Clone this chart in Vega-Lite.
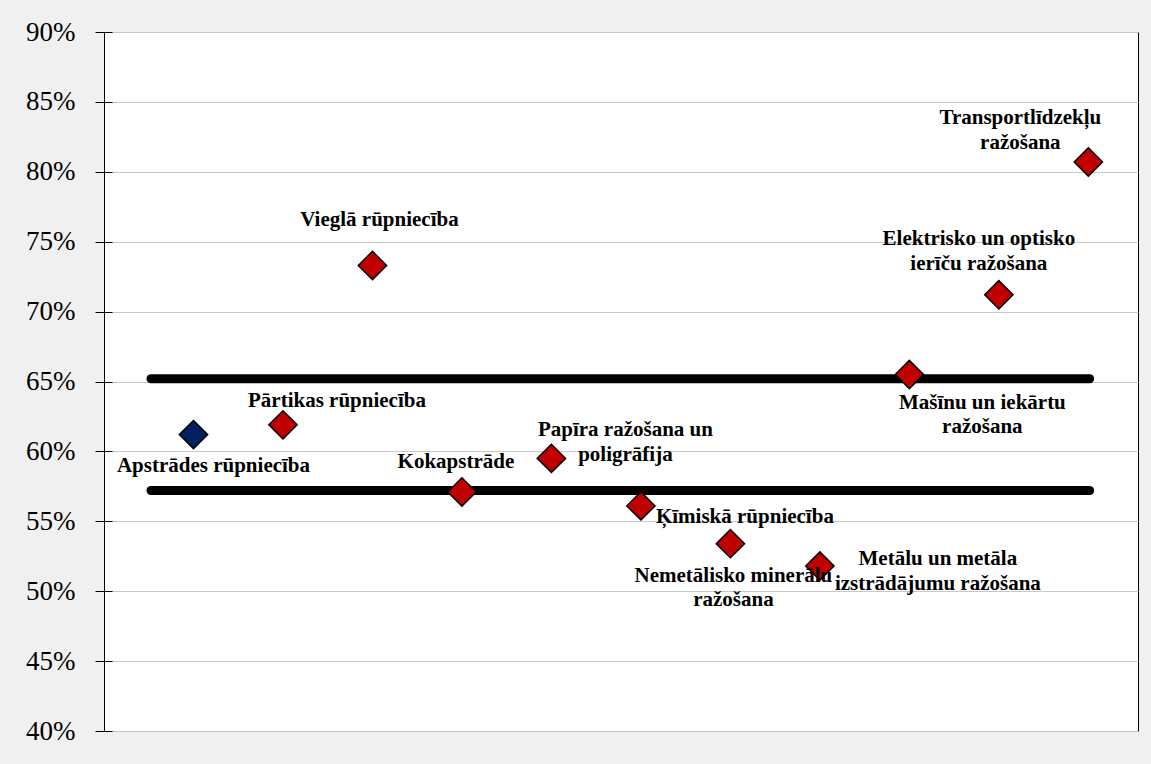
{
  "$schema": "https://vega.github.io/schema/vega-lite/v6.json",
  "autosize": {"type": "none"},
  "width": 1034,
  "height": 699,
  "padding": {"left": 104, "top": 32, "right": 13, "bottom": 33},
  "background": "#f0f0f0",
  "config": {
    "view": {"fill": "white", "stroke": "black", "strokeWidth": 1},
    "font": "Liberation Serif"
  },
  "datasets": {
    "points": [
      {"name": "Apstrādes rūpniecība", "idx": 1, "value": 0.612, "group": "Kopā"},
      {"name": "Pārtikas rūpniecība", "idx": 2, "value": 0.619, "group": "Nozare"},
      {"name": "Vieglā rūpniecība", "idx": 3, "value": 0.733, "group": "Nozare"},
      {"name": "Kokapstrāde", "idx": 4, "value": 0.571, "group": "Nozare"},
      {"name": "Papīra ražošana un\npoligrāfija", "idx": 5, "value": 0.595, "group": "Nozare"},
      {"name": "Ķīmiskā rūpniecība", "idx": 6, "value": 0.561, "group": "Nozare"},
      {"name": "Nemetālisko minerālu\nražošana", "idx": 7, "value": 0.534, "group": "Nozare"},
      {"name": "Metālu un metāla\nizstrādājumu ražošana", "idx": 8, "value": 0.518, "group": "Nozare"},
      {"name": "Mašīnu un iekārtu\nražošana", "idx": 9, "value": 0.655, "group": "Nozare"},
      {"name": "Elektrisko un optisko\nierīču ražošana", "idx": 10, "value": 0.712, "group": "Nozare"},
      {"name": "Transportlīdzekļu\nražošana", "idx": 11, "value": 0.807, "group": "Nozare"}
    ],
    "bands": [
      {"band": "augšējā", "start": 0.525, "end": 11.015, "level": 0.652},
      {"band": "apakšējā", "start": 0.525, "end": 11.015, "level": 0.572}
    ]
  },
  "layer": [
    {
      "data": {"name": "bands"},
      "mark": {"type": "rule", "strokeWidth": 9, "strokeCap": "round", "color": "black"},
      "encoding": {
        "x": {"field": "start", "type": "quantitative", "scale": {"domain": [0, 11.555], "nice": false, "zero": false}, "axis": null},
        "x2": {"field": "end"},
        "y": {"field": "level", "type": "quantitative", "scale": {"domain": [0.4, 0.9], "nice": false, "zero": false},
          "axis": {"values": [0.4, 0.45, 0.5, 0.55, 0.6, 0.65, 0.7, 0.75, 0.8, 0.85, 0.9], "format": ".0%", "title": null,
            "grid": true, "gridColor": "#c8c8c8", "gridWidth": 1, "domain": false,
            "offset": -8, "tickSize": 17, "tickColor": "black", "tickWidth": 1,
            "labelFont": "Liberation Serif", "labelFontSize": 27, "labelColor": "black", "labelPadding": 20}}
      }
    },
    {
      "data": {"name": "points"},
      "mark": {"type": "point", "shape": "diamond", "filled": true, "size": 800, "stroke": "black", "strokeWidth": 1.5, "opacity": 1},
      "encoding": {
        "x": {"field": "idx", "type": "quantitative"},
        "y": {"field": "value", "type": "quantitative"},
        "fill": {"field": "group", "type": "nominal", "scale": {"domain": ["Kopā", "Nozare"], "range": ["#002060", "#c00000"]}, "legend": null}
      }
    },
    {"data": {"name": "points"}, "transform": [{"filter": "datum.idx === 1"}],
     "mark": {"type": "text", "font": "Liberation Serif", "fontWeight": "bold", "fontSize": 21, "lineHeight": 24.7, "lineBreak": "\n", "align": "center", "baseline": "middle", "color": "black", "dx": 20, "dy": 31},
     "encoding": {"x": {"field": "idx", "type": "quantitative"}, "y": {"field": "value", "type": "quantitative"}, "text": {"field": "name"}}},
    {"data": {"name": "points"}, "transform": [{"filter": "datum.idx === 2"}],
     "mark": {"type": "text", "font": "Liberation Serif", "fontWeight": "bold", "fontSize": 21, "lineHeight": 24.7, "lineBreak": "\n", "align": "center", "baseline": "middle", "color": "black", "dx": 54, "dy": -24},
     "encoding": {"x": {"field": "idx", "type": "quantitative"}, "y": {"field": "value", "type": "quantitative"}, "text": {"field": "name"}}},
    {"data": {"name": "points"}, "transform": [{"filter": "datum.idx === 3"}],
     "mark": {"type": "text", "font": "Liberation Serif", "fontWeight": "bold", "fontSize": 21, "lineHeight": 24.7, "lineBreak": "\n", "align": "center", "baseline": "middle", "color": "black", "dx": 7, "dy": -45},
     "encoding": {"x": {"field": "idx", "type": "quantitative"}, "y": {"field": "value", "type": "quantitative"}, "text": {"field": "name"}}},
    {"data": {"name": "points"}, "transform": [{"filter": "datum.idx === 4"}],
     "mark": {"type": "text", "font": "Liberation Serif", "fontWeight": "bold", "fontSize": 21, "lineHeight": 24.7, "lineBreak": "\n", "align": "center", "baseline": "middle", "color": "black", "dx": -6, "dy": -30},
     "encoding": {"x": {"field": "idx", "type": "quantitative"}, "y": {"field": "value", "type": "quantitative"}, "text": {"field": "name"}}},
    {"data": {"name": "points"}, "transform": [{"filter": "datum.idx === 5"}],
     "mark": {"type": "text", "font": "Liberation Serif", "fontWeight": "bold", "fontSize": 21, "lineHeight": 24.7, "lineBreak": "\n", "align": "center", "baseline": "middle", "color": "black", "dx": 74, "dy": -28},
     "encoding": {"x": {"field": "idx", "type": "quantitative"}, "y": {"field": "value", "type": "quantitative"}, "text": {"field": "name"}}},
    {"data": {"name": "points"}, "transform": [{"filter": "datum.idx === 6"}],
     "mark": {"type": "text", "font": "Liberation Serif", "fontWeight": "bold", "fontSize": 21, "lineHeight": 24.7, "lineBreak": "\n", "align": "center", "baseline": "middle", "color": "black", "dx": 104, "dy": 11},
     "encoding": {"x": {"field": "idx", "type": "quantitative"}, "y": {"field": "value", "type": "quantitative"}, "text": {"field": "name"}}},
    {"data": {"name": "points"}, "transform": [{"filter": "datum.idx === 7"}],
     "mark": {"type": "text", "font": "Liberation Serif", "fontWeight": "bold", "fontSize": 21, "lineHeight": 24.7, "lineBreak": "\n", "align": "center", "baseline": "middle", "color": "black", "dx": 3, "dy": 32},
     "encoding": {"x": {"field": "idx", "type": "quantitative"}, "y": {"field": "value", "type": "quantitative"}, "text": {"field": "name"}}},
    {"data": {"name": "points"}, "transform": [{"filter": "datum.idx === 8"}],
     "mark": {"type": "text", "font": "Liberation Serif", "fontWeight": "bold", "fontSize": 21, "lineHeight": 24.7, "lineBreak": "\n", "align": "center", "baseline": "middle", "color": "black", "dx": 118, "dy": -7},
     "encoding": {"x": {"field": "idx", "type": "quantitative"}, "y": {"field": "value", "type": "quantitative"}, "text": {"field": "name"}}},
    {"data": {"name": "points"}, "transform": [{"filter": "datum.idx === 9"}],
     "mark": {"type": "text", "font": "Liberation Serif", "fontWeight": "bold", "fontSize": 21, "lineHeight": 24.7, "lineBreak": "\n", "align": "center", "baseline": "middle", "color": "black", "dx": 73, "dy": 28},
     "encoding": {"x": {"field": "idx", "type": "quantitative"}, "y": {"field": "value", "type": "quantitative"}, "text": {"field": "name"}}},
    {"data": {"name": "points"}, "transform": [{"filter": "datum.idx === 10"}],
     "mark": {"type": "text", "font": "Liberation Serif", "fontWeight": "bold", "fontSize": 21, "lineHeight": 24.7, "lineBreak": "\n", "align": "center", "baseline": "middle", "color": "black", "dx": -20, "dy": -56},
     "encoding": {"x": {"field": "idx", "type": "quantitative"}, "y": {"field": "value", "type": "quantitative"}, "text": {"field": "name"}}},
    {"data": {"name": "points"}, "transform": [{"filter": "datum.idx === 11"}],
     "mark": {"type": "text", "font": "Liberation Serif", "fontWeight": "bold", "fontSize": 21, "lineHeight": 24.7, "lineBreak": "\n", "align": "center", "baseline": "middle", "color": "black", "dx": -68, "dy": -44},
     "encoding": {"x": {"field": "idx", "type": "quantitative"}, "y": {"field": "value", "type": "quantitative"}, "text": {"field": "name"}}}
  ]
}
